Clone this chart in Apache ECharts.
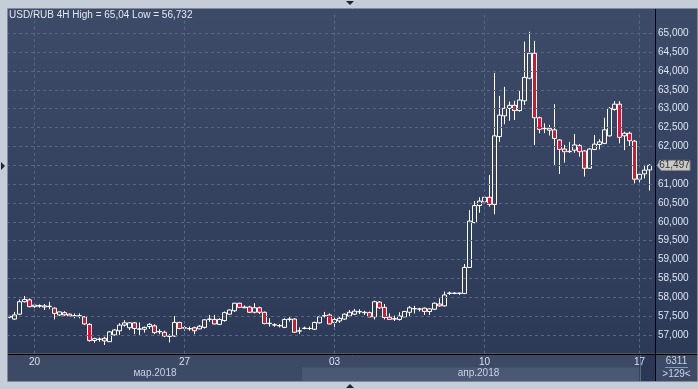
<!DOCTYPE html>
<html><head><meta charset="utf-8">
<script src="https://cdn.jsdelivr.net/npm/echarts@6/dist/echarts.min.js"></script>
<style>html,body{margin:0;padding:0;background:#c5cdd8;}#c{width:698px;height:389px;}</style>
</head><body><div id="c"></div>
<script>
// ---- data ----
const titleText = 'USD/RUB 4H High = 65,04 Low = 56,732';
// trading sessions: [day, first hour, number of 4H bars]
const sessionDays = [
  ['2018.03.19',4,5],['2018.03.20',0,6],['2018.03.21',0,6],['2018.03.22',0,6],['2018.03.23',0,6],
  ['2018.03.26',0,6],['2018.03.27',0,6],['2018.03.28',0,6],['2018.03.29',0,6],['2018.03.30',0,6],
  ['2018.04.02',0,6],['2018.04.03',0,6],['2018.04.04',0,6],['2018.04.05',0,6],['2018.04.06',0,6],
  ['2018.04.09',0,6],['2018.04.10',0,6],['2018.04.11',0,6],['2018.04.12',0,6],['2018.04.13',0,6],
  ['2018.04.15',20,1],['2018.04.16',0,6],['2018.04.17',0,3]
];
const categories = [];
sessionDays.forEach(([d,h0,n]) => { for (let k=0;k<n;k++){ const h=h0+4*k; categories.push(d+' '+(h<10?'0':'')+h+':00'); } });

const dayTicks  = ['2018.03.20 00:00','2018.03.27 00:00','2018.04.03 00:00','2018.04.10 00:00','2018.04.17 00:00'];
const dayLabels = ['20','27','03','10','17'];
const monthNames = ['мар.2018','апр.2018'];
const monthStarts = ['2018.03.19 04:00','2018.04.02 00:00'];
const priceLevels = [57,57.5,58,58.5,59,59.5,60,60.5,61,61.5,62,62.5,63,63.5,64,64.5,65];
const volumeText = '6311';
const barsText = '>129<';

const opens = [57.47,57.42,57.55,57.88,57.93,57.75,57.76,57.74,57.75,57.71,57.53,57.59,57.55,57.50,57.51,57.48,57.28,56.85,56.88,56.91,
 56.82,57.00,57.11,57.26,57.19,57.32,57.15,57.15,57.22,57.24,57.08,57.07,56.96,56.97,57.33,57.18,57.16,57.19,57.16,57.20,
 57.41,57.41,57.28,57.38,57.55,57.64,57.84,57.72,57.74,57.60,57.72,57.60,57.30,57.27,57.25,57.20,57.41,57.42,57.10,57.17,
 57.17,57.15,57.32,57.50,57.53,57.33,57.37,57.42,57.50,57.55,57.61,57.59,57.59,57.48,57.87,57.73,57.47,57.42,57.41,57.48,
 57.60,57.69,57.68,57.71,57.62,57.68,57.82,57.77,58.10,58.10,58.10,58.10,58.79,59.98,60.43,60.53,60.65,60.46,62.26,62.81,
 63.01,63.09,62.95,63.21,63.81,64.47,62.76,62.47,62.48,62.44,62.17,61.93,61.86,61.90,62.02,61.88,61.42,61.92,62.05,62.08,
 62.28,62.98,63.12,62.28,62.35,62.14,61.13,61.27,61.375];
const closes = [57.49,57.53,57.88,57.94,57.75,57.79,57.78,57.77,57.76,57.57,57.61,57.53,57.50,57.51,57.50,57.29,56.85,56.90,56.89,56.84,
 57.08,57.13,57.26,57.32,57.32,57.17,57.16,57.20,57.28,57.06,57.09,56.97,56.97,57.33,57.17,57.19,57.17,57.11,57.23,57.40,
 57.42,57.29,57.41,57.59,57.66,57.84,57.73,57.74,57.60,57.72,57.60,57.30,57.31,57.26,57.24,57.41,57.42,57.07,57.11,57.18,
 57.17,57.33,57.48,57.51,57.29,57.41,57.44,57.55,57.60,57.63,57.62,57.60,57.48,57.88,57.72,57.46,57.41,57.43,57.50,57.62,
 57.72,57.70,57.69,57.62,57.69,57.84,57.77,58.06,58.11,58.11,58.11,58.79,60.02,60.43,60.55,60.65,60.46,62.28,62.83,63.01,
 63.09,62.95,63.23,63.83,64.47,62.76,62.45,62.48,62.43,62.21,61.92,61.86,61.87,62.04,61.86,61.42,61.93,62.06,62.12,62.44,
 63.01,63.12,62.24,62.35,62.15,61.13,61.26,61.37,61.497];
const highs = [57.51,57.61,57.94,58.03,57.97,57.82,57.81,57.82,57.88,57.73,57.62,57.63,57.57,57.57,57.57,57.50,57.31,56.93,56.93,56.95,
 57.10,57.15,57.31,57.39,57.33,57.34,57.33,57.22,57.31,57.28,57.15,57.11,57.02,57.50,57.35,57.24,57.22,57.22,57.26,57.42,
 57.53,57.53,57.44,57.62,57.68,57.85,57.85,57.78,57.77,57.84,57.75,57.62,57.44,57.31,57.29,57.44,57.47,57.44,57.20,57.22,
 57.22,57.35,57.51,57.61,57.57,57.53,57.48,57.57,57.66,57.69,57.68,57.64,57.62,57.91,57.90,57.82,57.57,57.51,57.60,57.64,
 57.77,57.77,57.72,57.73,57.71,57.86,57.97,58.15,58.15,58.13,58.12,58.88,60.31,60.55,60.65,60.71,61.24,63.95,63.34,63.58,
 63.19,63.21,63.47,64.78,65.04,64.80,62.79,62.61,62.57,63.12,62.19,62.04,62.12,62.33,62.06,61.90,61.95,62.30,62.19,62.76,
 63.04,63.20,63.20,62.39,62.39,62.17,61.33,61.51,61.53];
const lows = [57.44,57.40,57.53,57.86,57.73,57.72,57.72,57.66,57.68,57.41,57.50,57.50,57.48,57.44,57.44,57.26,56.82,56.79,56.82,56.732,
 56.81,56.98,57.00,57.22,57.13,57.02,57.00,57.06,57.16,57.02,57.02,56.94,56.80,56.95,57.15,57.11,57.11,57.02,57.15,57.17,
 57.35,57.28,57.26,57.35,57.53,57.61,57.71,57.71,57.58,57.57,57.55,57.28,57.22,57.22,57.20,57.18,57.35,57.06,57.02,57.15,
 57.13,57.13,57.30,57.46,57.28,57.13,57.32,57.40,57.47,57.53,57.55,57.53,57.47,57.41,57.69,57.41,57.40,57.37,57.38,57.47,
 57.48,57.57,57.62,57.53,57.53,57.66,57.75,57.75,58.06,58.08,58.06,58.08,58.78,59.96,60.24,60.47,60.40,60.20,62.12,62.59,
 62.68,62.70,62.92,63.10,63.78,62.04,62.35,62.35,62.29,61.51,61.27,61.57,61.83,61.83,61.73,61.20,61.41,61.90,61.92,62.06,
 62.26,62.95,62.08,61.90,62.01,61.02,61.04,61.15,60.83];

// ---- chart ----
const FONT = "'Liberation Sans', Arial, sans-serif";
const fmt = v => v.toFixed(3).replace('.', ',');
const candles = opens.map((o,i) => [o, closes[i], lows[i], highs[i]]);
const chart = echarts.init(document.getElementById('c'), null, {renderer:'canvas', width:698, height:389});

const option = {
  animation:false,
  backgroundColor:'transparent',
  title:{text:titleText, left:9, top:10, padding:0,
    textStyle:{color:'#e2e8f0', fontSize:10, fontWeight:'normal', fontFamily:FONT}},
  grid:{left:7, right:46, top:14.83, bottom:35.25},
  xAxis:{type:'category', data:categories, boundaryGap:true,
    axisLine:{show:false}, axisTick:{show:false}, splitLine:{show:false},
    axisLabel:{interval:(i,v)=>dayTicks.includes(v), formatter:v=>dayLabels[dayTicks.indexOf(v)] || '',
      color:'#d6e0f0', fontSize:10, fontFamily:FONT, margin:3}},
  yAxis:{type:'value', position:'right', min:56.5, max:65.49, interval:0.5, offset:3,
    axisLine:{show:false}, axisTick:{show:false}, splitLine:{show:false},
    axisLabel:{showMinLabel:false, showMaxLabel:false, margin:3, color:'#dce6f5', fontSize:10, fontFamily:FONT,
      formatter:v => priceLevels.some(p=>Math.abs(p-v)<1e-6) ? fmt(v) : ''}},
  series:[{
    type:'candlestick', data:candles, barWidth:4,
    itemStyle:{color:'rgba(0,0,0,0)', color0:'#e3102b', borderColor:'#ffffff', borderColor0:'#ffffff', borderColorDoji:'#ffffff', borderWidth:1},
    emphasis:{disabled:true},
    markLine:{silent:true, symbol:['none','none'], animation:false, label:{show:false}, emphasis:{disabled:true},
      lineStyle:{color:'#586784', type:[3,3], width:1},
      data:[...priceLevels.map(v=>({yAxis:v})), ...dayTicks.map(c=>({xAxis:c}))]}
  }]
};
chart.setOption(option);

// decorations placed through the library's scales
const px = c => chart.convertToPixel({xAxisIndex:0}, c);
const py = v => chart.convertToPixel({yAxisIndex:0}, v);
const band = px(categories[1]) - px(categories[0]);
const yBot = py(56.5);
const xRight = px(categories[categories.length-1]) + band/2 + 3;
const aprLeft = px(monthStarts[1]) - band/2;
const xNow = px(dayTicks[dayTicks.length-1]);
const yLast = py(closes[closes.length-1]);
const PL = 8, PR = 697, PT = 9, PB = 381;
const txt = (x,y,t,fill,align) => ({type:'text', x, y, z:30, style:{text:t, fill, font:"10px 'Liberation Sans', Arial, sans-serif",
  align:align||'center', verticalAlign:'middle', textAlign:align||'center', textVerticalAlign:'middle'}});

chart.setOption({graphic:[
  {type:'rect', z:-10, shape:{x:PL, y:PT, width:PR-PL, height:yBot-PT},
    style:{fill:new echarts.graphic.LinearGradient(0,0,0,1,[{offset:0,color:'#3e4b68'},{offset:1,color:'#2c3957'}])}},
  {type:'rect', z:-10, shape:{x:PL, y:yBot, width:PR-PL, height:PB-yBot}, style:{fill:'#3d4a66'}},
  {type:'rect', z:-9, shape:{x:aprLeft, y:367.5, width:xNow-aprLeft, height:PB-367.5}, style:{fill:'#4b5874'}},
  {type:'rect', z:-9, shape:{x:xNow, y:yBot, width:xRight-xNow, height:PB-yBot}, style:{fill:'#2b3855'}},
  {type:'line', z:-8, shape:{x1:Math.round(xNow)+0.5, y1:yBot, x2:Math.round(xNow)+0.5, y2:PB}, style:{stroke:'#5b6882', lineWidth:1}},
  {type:'line', z:20, shape:{x1:PL, y1:Math.round(yBot)+0.5, x2:PR, y2:Math.round(yBot)+0.5}, style:{stroke:'#000', lineWidth:1}},
  {type:'line', z:20, shape:{x1:Math.round(xRight)+0.5, y1:PT, x2:Math.round(xRight)+0.5, y2:PB}, style:{stroke:'#000', lineWidth:1}},
  txt((PL+aprLeft)/2, 373.5, monthNames[0], '#c8d2e4'),
  txt((aprLeft+xRight)/2, 373.5, monthNames[1], '#c8d2e4'),
  {type:'polygon', z:25, shape:{points:[[xRight+2,yLast],[xRight+6,yLast-5],[690,yLast-5],[690,yLast+5],[xRight+6,yLast+5]]},
    style:{fill:'#c9c9c9', stroke:'#8a8a8a', lineWidth:1}},
  txt(674.5, yLast, fmt(closes[closes.length-1]), '#333333'),
  txt(676.5, 361.5, volumeText, '#c8d4e8'),
  {type:'line', z:30, shape:{x1:665, y1:367.5, x2:688, y2:367.5}, style:{stroke:'#8896ae', lineWidth:1}},
  txt(676.5, 374.5, barsText, '#c8d4e8'),
  {type:'rect', z:40, shape:{x:PL-0.5, y:PT-0.5, width:PR-PL+1, height:PB-PT+1}, style:{fill:'none', stroke:'#7d8aa0', lineWidth:1}},
  {type:'polygon', z:40, shape:{points:[[346,1],[354,1],[350,5]]}, style:{fill:'#1e2430'}},
  {type:'polygon', z:40, shape:{points:[[346,388],[354,388],[350,384]]}, style:{fill:'#1e2430'}},
  {type:'polygon', z:40, shape:{points:[[1,162],[1,170],[5,166]]}, style:{fill:'#1e2430'}}
]});
</script></body></html>
